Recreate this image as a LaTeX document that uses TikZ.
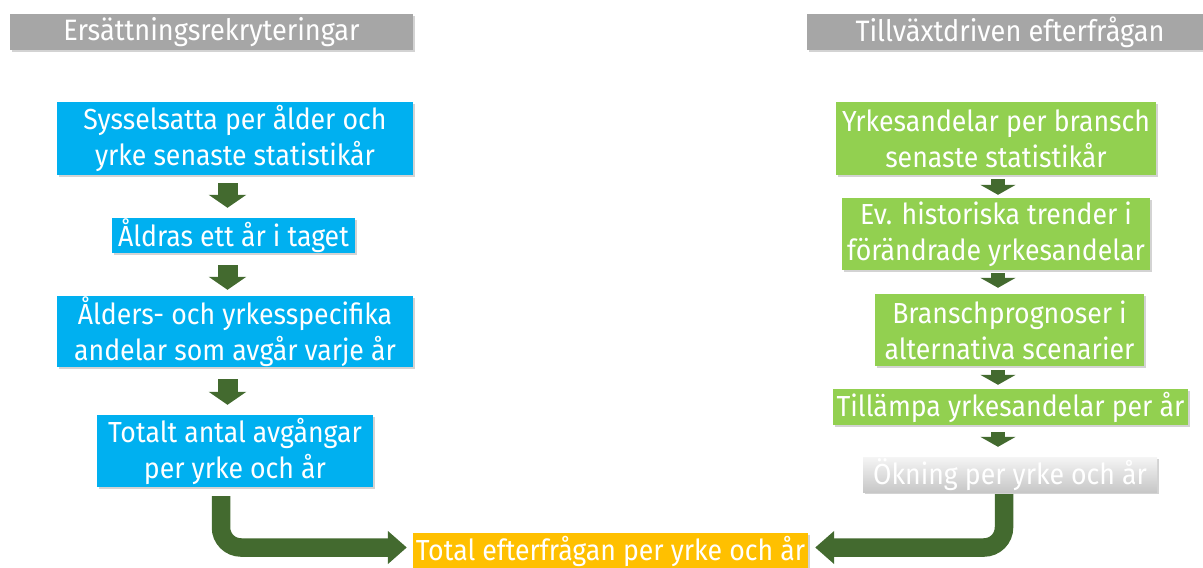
\documentclass[tikz,border=0pt]{standalone}
\usepackage{fontspec}
\setmainfont{Fira Sans}[FakeStretch=0.92]
\usetikzlibrary{arrows.meta, shadows, calc}
\definecolor{cblue}{HTML}{00B0F0}
\definecolor{cgreen}{HTML}{92D050}
\definecolor{corange}{HTML}{FFC000}
\definecolor{carrow}{HTML}{436A2F}
\definecolor{chead}{HTML}{A6A6A6}
\begin{document}
\begin{tikzpicture}[x=1pt, y=-1pt,
  base/.style={text=white, inner sep=0pt, align=center,
    font=\fontsize{29}{36}\selectfont,
    drop shadow={shadow xshift=1.5pt, shadow yshift=-2pt, opacity=0.35}},
  bluebox/.style={base, fill=cblue},
  greenbox/.style={base, fill=cgreen},
  greybox/.style={base, top color=black!4, bottom color=black!22},
  orangebox/.style={base, fill=corange, font=\fontsize{29}{34}\selectfont},
  headbox/.style={base, fill=chead, font=\fontsize{29.5}{34}\selectfont},
  smallarrL/.style={draw=carrow, line width=20pt, -{Triangle[length=13pt, width=37pt]}},
  smallarrR/.style={draw=carrow, line width=14pt, -{Triangle[length=10pt, width=35pt]}},
  bigarr/.style={draw=carrow, line width=18.5pt, rounded corners=20pt,
    -{Triangle[length=19pt, width=32pt]}},
]
\useasboundingbox (0,0) rectangle (1203,568);

% headers
\node[headbox, minimum width=403pt, minimum height=36pt] (H1) at (211.5,32) {Ersättningsrekryteringar};
\node[headbox, minimum width=406pt, minimum height=36pt] (H2) at (1010,32) {Tillväxtdriven efterfrågan};

% left column
\node[bluebox, minimum width=356pt, minimum height=73pt] (B1) at (235,138.5) {Sysselsatta per ålder och\\yrke senaste statistikår};
\node[bluebox, minimum width=243pt, minimum height=35pt] (B2) at (233.5,235.5) {Åldras ett år i taget};
\node[bluebox, minimum width=356pt, minimum height=71pt] (B3) at (235,331.5) {Ålders- och yrkesspecifika\\andelar som avgår varje år};
\node[bluebox, minimum width=276pt, minimum height=72pt] (B4) at (235,451) {Totalt antal avgångar\\per yrke och år};

% right column
\node[greenbox, minimum width=320pt, minimum height=73pt] (G1) at (996,138.5) {Yrkesandelar per bransch\\senaste statistikår};
\node[greenbox, minimum width=308pt, minimum height=72pt] (G2) at (996,234) {Ev. historiska trender i\\förändrade yrkesandelar};
\node[greenbox, minimum width=269pt, minimum height=72pt] (G3) at (1009.5,330) {Branschprognoser i\\alternativa scenarier};
\node[greenbox, minimum width=355pt, minimum height=36pt] (G4) at (1010.5,407) {Tillämpa yrkesandelar per år};
\node[greybox, minimum width=294pt, minimum height=35pt] (G5) at (1010,474.5) {Ökning per yrke och år};

% result
\node[orangebox, minimum width=395pt, minimum height=37pt] (T) at (610.5,551.5) {Total efterfrågan per yrke och år};

% small arrows
\coordinate (axL) at (227.5,0);
\coordinate (axR) at (998,0);
\draw[smallarrL, shorten <=8pt, shorten >=10pt] (B1.south -| axL) -- (B2.north -| axL);
\draw[smallarrL, shorten <=12pt, shorten >=6pt] (B2.south -| axL) -- (B3.north -| axL);
\draw[smallarrL, shorten <=12pt, shorten >=10pt] (B3.south -| axL) -- (B4.north -| axL);

\draw[smallarrR, shorten <=4pt, shorten >=3pt] (G1.south -| axR) -- (G2.north -| axR);
\draw[smallarrR, shorten <=3pt, shorten >=6pt] (G2.south -| axR) -- (G3.north -| axR);
\draw[smallarrR, shorten <=4pt, shorten >=4pt] (G3.south -| axR) -- (G4.north -| axR);
\draw[smallarrR, shorten <=7pt, shorten >=10pt] (G4.south -| axR) -- (G5.north -| axR);

% bent arrows
\coordinate (bl) at (221,0);
\coordinate (br) at (1004,0);
\coordinate (hy) at (0,547.5);
\draw[bigarr, shorten >=6pt] ([yshift=-9pt]B4.south -| bl) |- (T.west |- hy);
\draw[bigarr, shorten >=7pt] ([yshift=-2pt]G5.south -| br) |- (T.east |- hy);
\end{tikzpicture}
\end{document}
